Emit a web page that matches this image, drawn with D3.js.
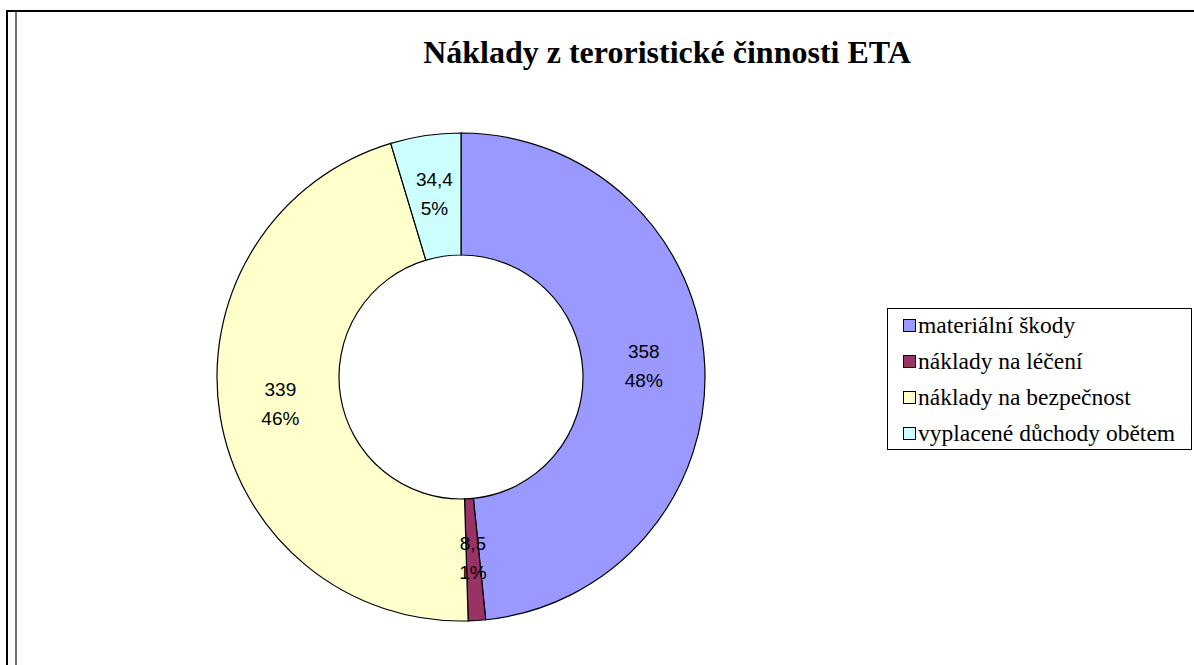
<!DOCTYPE html>
<html>
<head>
<meta charset="utf-8">
<script src="https://cdn.jsdelivr.net/npm/d3@7"></script>
<style>
  html, body { margin: 0; padding: 0; background: #fff; }
  svg { display: block; }
</style>
</head>
<body>
<svg id="chart" width="1194" height="665"></svg>
<script>
const title = "Náklady z teroristické činnosti ETA";
const categories = ["materiální škody", "náklady na léčení", "náklady na bezpečnost", "vyplacené důchody obětem"];
const values = [358, 8.5, 339, 34.4];
const colors = ["#9999FF", "#993366", "#FFFFCC", "#CCFFFF"];

const W = 1194, H = 665;
const svg = d3.select("#chart");

// outer frame
svg.append("line").attr("x1", 6).attr("x2", W).attr("y1", 11).attr("y2", 11)
  .attr("stroke", "#000").attr("stroke-width", 2);
svg.append("line").attr("x1", 7).attr("x2", 7).attr("y1", 10).attr("y2", H)
  .attr("stroke", "#000").attr("stroke-width", 2);
svg.append("line").attr("x1", 16).attr("x2", 16).attr("y1", 12).attr("y2", H)
  .attr("stroke", "#444").attr("stroke-width", 1.5);

// title
svg.append("text")
  .attr("x", 667).attr("y", 63)
  .attr("text-anchor", "middle")
  .attr("font-family", "'Liberation Serif', 'Times New Roman', serif")
  .attr("font-weight", "bold")
  .attr("font-size", 32)
  .attr("fill", "#000")
  .text(title);

// donut
const cx = 461, cy = 377, R = 244, r = 122;
const total = d3.sum(values);
const pie = d3.pie().sort(null).value(d => d)(values);
const arc = d3.arc().innerRadius(r).outerRadius(R);
const g = svg.append("g").attr("transform", `translate(${cx},${cy})`);

g.selectAll("path.slice").data(pie).enter().append("path")
  .attr("class", "slice")
  .attr("d", arc)
  .attr("fill", (d, i) => colors[i])
  .attr("stroke", "#000")
  .attr("stroke-width", 1.2);

const fmtVal = v => String(v).replace(".", ",");
const labels = g.selectAll("g.lab").data(pie).enter().append("g")
  .attr("class", "lab")
  .attr("transform", d => { const c = arc.centroid(d); return `translate(${c[0]},${c[1]})`; });
labels.append("text")
  .attr("text-anchor", "middle").attr("y", -10)
  .attr("font-family", "'Liberation Sans', Arial, sans-serif").attr("font-size", 19).attr("fill", "#000")
  .text(d => fmtVal(d.data));
labels.append("text")
  .attr("text-anchor", "middle").attr("y", 19)
  .attr("font-family", "'Liberation Sans', Arial, sans-serif").attr("font-size", 19).attr("fill", "#000")
  .text(d => Math.round(d.data / total * 100) + "%");

// legend
const lx = 887, ly = 308, lw = 304, lh = 141;
svg.append("rect").attr("x", lx + 0.5).attr("y", ly + 0.5).attr("width", lw).attr("height", lh)
  .attr("fill", "#fff").attr("stroke", "#000").attr("stroke-width", 1);
const rowY = d3.scalePoint().domain(categories).range([333, 441]);
const leg = svg.selectAll("g.leg").data(categories).enter().append("g")
  .attr("class", "leg")
  .attr("transform", d => `translate(0,${rowY(d)})`);
leg.append("rect")
  .attr("x", 903.5).attr("y", -13.5).attr("width", 12).attr("height", 12)
  .attr("fill", (d, i) => colors[i]).attr("stroke", "#000").attr("stroke-width", 1);
leg.append("text")
  .attr("x", 918).attr("y", 0)
  .attr("font-family", "'Liberation Serif', 'Times New Roman', serif")
  .attr("font-size", 23.5).attr("fill", "#000")
  .text(d => d);
</script>
</body>
</html>
